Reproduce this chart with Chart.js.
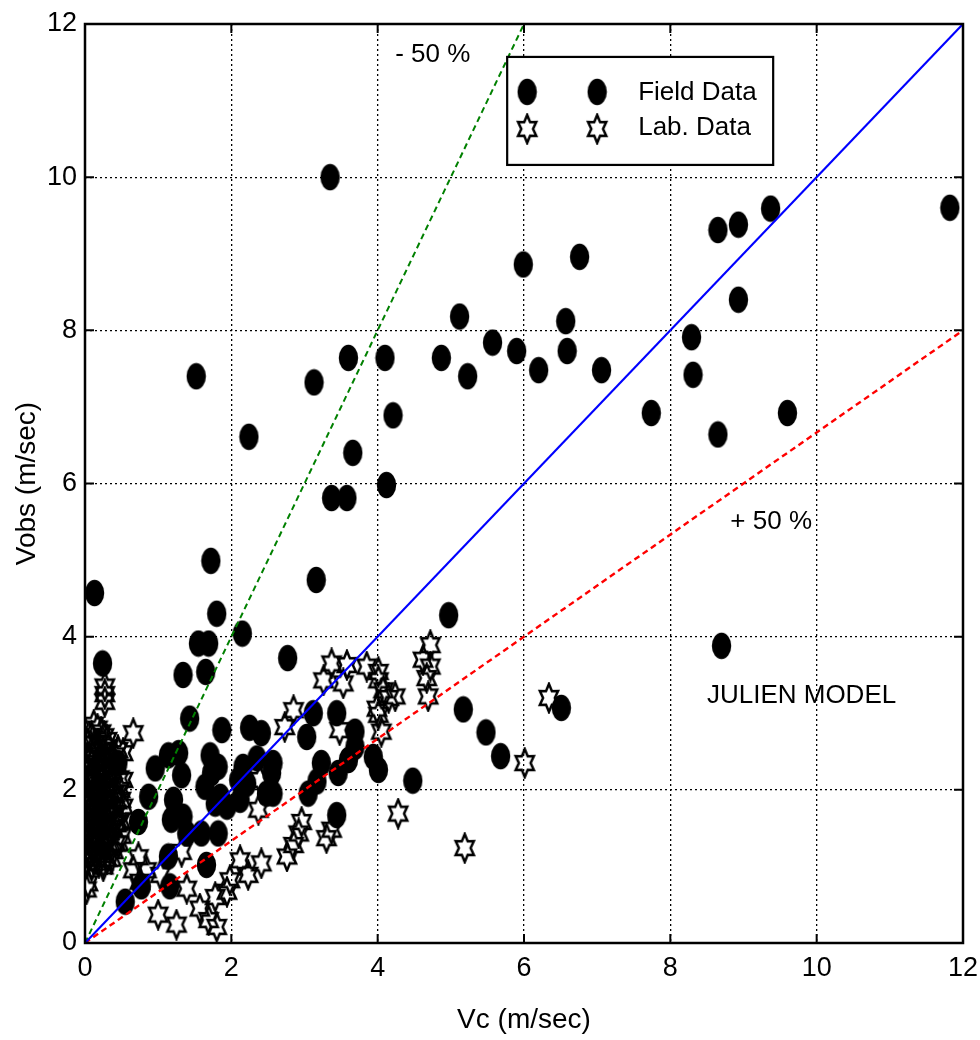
<!DOCTYPE html>
<html lang="en">
<head>
    <meta charset="UTF-8">
    <title>Julien Model - Vobs vs Vc</title>
    <script src="https://cdn.jsdelivr.net/npm/chart.js"></script>
    <style>
        body { margin: 0; background: #fff; }
        canvas { display: block; }
    </style>
</head>
<body>
    <canvas id="julien-chart" width="980" height="1040" style="width:980px;height:1040px"></canvas>

    <script>
        // Field data (filled circles)
        const fieldVc = [
            3.35, 11.82, 9.37, 8.93, 8.65, 6.76, 5.99, 5.12, 6.57, 8.93, 8.29, 8.31, 6.59, 5.90, 5.57,
            4.87, 5.23, 6.20, 7.06, 7.74, 9.60, 8.65, 4.10, 3.60, 3.13, 1.52, 2.24, 4.21, 3.66, 3.37,
            3.58, 4.12, 3.16, 1.72, 0.13, 1.80, 4.97, 8.70, 2.15, 2.77, 0.24, 1.55, 1.69, 1.34, 1.65,
            5.17, 6.51, 5.48, 5.68, 4.48, 1.43, 1.87, 2.25, 2.41, 0.73, 0.87, 1.14, 1.28, 0.96, 1.32,
            1.21, 1.18, 1.34, 1.64, 1.73, 1.71, 1.82, 1.85, 1.78, 1.94, 2.10, 2.21, 2.12, 2.16, 2.35,
            2.55, 2.48, 1.39, 1.59, 1.82, 1.14, 1.66, 1.16, 0.55, 0.77, 0.45, 2.57, 2.57, 3.03, 3.12,
            3.44, 3.69, 3.69, 3.60, 3.94, 4.01, 3.23, 3.17, 3.05, 3.46, 3.44
        ];
        const fieldVobs = [
            10.0, 9.60, 9.59, 9.38, 9.31, 8.96, 8.86, 8.18, 8.12, 8.40, 7.91, 7.42, 7.73, 7.73, 7.84,
            7.64, 7.40, 7.48, 7.48, 6.92, 6.92, 6.64, 7.64, 7.64, 7.32, 7.40, 6.61, 6.89, 6.40, 5.81,
            5.81, 5.98, 4.74, 4.99, 4.57, 4.30, 4.28, 3.88, 4.04, 3.72, 3.65, 3.91, 3.91, 3.50, 3.54,
            3.05, 3.07, 2.75, 2.44, 2.12, 2.93, 2.78, 2.81, 2.74, 1.58, 1.91, 2.45, 2.48, 2.28, 2.19,
            1.87, 1.61, 1.65, 2.04, 2.22, 2.45, 2.30, 1.91, 1.82, 1.78, 2.13, 2.08, 1.87, 2.30, 2.41,
            2.22, 1.95, 1.43, 1.43, 1.43, 1.13, 1.02, 0.74, 0.54, 0.74, 2.35, 2.35, 1.95, 2.69, 3.00,
            3.00, 2.76, 2.56, 2.39, 2.43, 2.26, 2.35, 2.11, 1.95, 2.22, 1.67
        ];

        // Lab. data (six-pointed stars)
        const labVc = [
            0.05, 0.05, 0.05, 0.05, 0.08, 0.08, 0.10, 0.10, 0.12, 0.12, 0.15, 0.15, 0.15, 0.18, 0.18,
            0.20, 0.20, 0.22, 0.22, 0.25, 0.25, 0.28, 0.28, 0.30, 0.30, 0.32, 0.35, 0.35, 0.38, 0.40,
            0.22, 0.18, 0.10, 0.30, 0.02, 0.08, 0.12, 0.25,
            0.03, 0.03, 0.03, 0.03, 0.03, 0.07, 0.07, 0.07, 0.07, 0.11, 0.11, 0.11, 0.13, 0.13, 0.16,
            0.16, 0.16, 0.17, 0.19, 0.19, 0.21, 0.21, 0.21, 0.23, 0.24, 0.26, 0.26, 0.27, 0.29, 0.31,
            0.33, 0.33, 0.36, 0.37, 0.39, 0.41, 0.43, 0.44, 0.47, 0.50,
            0.02, 0.02, 0.02, 0.04, 0.04, 0.06, 0.06, 0.09, 0.09, 0.09, 0.12, 0.12, 0.14, 0.14, 0.17,
            0.17, 0.17, 0.20, 0.20, 0.20, 0.23, 0.23, 0.25, 0.26, 0.28, 0.29, 0.30, 0.32, 0.32, 0.34,
            0.34, 0.36, 0.38, 0.38, 0.40, 0.42, 0.44, 0.46, 0.48, 0.48,
            0.27, 0.27, 0.27, 0.66, 0.45, 0.52, 0.52, 0.52, 0.49, 0.45, 0.42, 0.04,
            1.32, 0.73, 0.84, 0.66, 0.75, 1.03, 1.39, 1.00, 1.25, 1.57, 1.78, 1.69, 1.80, 1.94, 1.98,
            2.12, 2.23, 2.41, 2.39, 2.37, 2.96, 2.92, 2.85, 2.76, 3.30, 3.37, 2.85, 2.73, 3.48,
            3.37, 3.58, 3.26, 3.53, 3.85, 4.01, 4.01, 4.08, 4.15, 4.24, 3.99, 4.01, 4.05,
            4.72, 4.62, 4.72, 4.67, 4.69, 4.28, 5.19, 6.34, 6.01
        ];
        const labVobs = [
            1.20, 1.40, 1.60, 1.80, 1.30, 1.50, 1.70, 1.95, 1.25, 1.45, 1.15, 1.60, 2.10, 1.35, 1.85,
            2.30, 1.20, 1.55, 2.00, 2.50, 1.75, 2.20, 1.40, 1.90, 2.65, 1.60, 2.40, 1.30, 2.05, 1.75,
            2.75, 2.60, 2.45, 1.10, 0.70, 2.20, 2.85, 1.05,
            1.05, 1.35, 1.65, 1.95, 2.25, 1.15, 1.75, 2.05, 2.40, 1.10, 1.55, 2.20, 1.90, 2.60, 1.30,
            1.70, 2.35, 2.80, 1.05, 1.60, 1.40, 1.90, 2.45, 1.15, 2.15, 1.55, 2.70, 1.95, 1.25, 2.35,
            1.45, 2.00, 1.65, 2.25, 1.20, 2.45, 1.55, 1.85, 2.15, 1.40,
            1.50, 2.10, 2.40, 1.15, 2.60, 1.85, 2.15, 1.00, 2.50, 2.70, 1.70, 2.00, 1.40, 2.30, 1.10,
            1.95, 2.50, 1.50, 1.75, 2.15, 1.35, 2.30, 1.00, 1.85, 2.45, 1.70, 2.05, 1.30, 2.55, 1.80,
            2.20, 1.10, 1.50, 2.40, 1.95, 1.70, 2.30, 1.30, 1.60, 2.00,
            3.35, 3.25, 3.15, 2.74, 2.52, 2.48, 2.13, 1.78, 1.87, 1.57, 1.30, 0.78,
            1.19, 1.12, 0.95, 0.95, 0.80, 0.89, 0.71, 0.37, 0.24, 0.45, 0.60, 0.30, 0.21, 0.67, 0.82,
            1.08, 0.89, 1.04, 2.13, 1.74, 1.58, 1.43, 1.28, 1.13, 1.37, 1.48, 3.04, 2.82, 2.78,
            3.65, 3.63, 3.43, 3.39, 3.61, 3.54, 3.43, 3.30, 3.20, 3.22, 3.06, 2.98, 2.76,
            3.89, 3.70, 3.61, 3.46, 3.22, 1.69, 1.24, 3.20, 2.35
        ];

        // Reference lines: Vobs = Vc, -50 % and +50 %
        const lineVc = [0, 12];
        const perfectVobs = [0, 12];
        const minus50Vc = [0, 6];
        const minus50Vobs = [0, 12];
        const plus50Vobs = [0, 8];

        const tickValues = [0, 2, 4, 6, 8, 10, 12];
        const legendLabels = ['Field Data', 'Lab. Data'];

        const FONT = "'Liberation Sans', Arial, sans-serif";

        function toPoints(xs, ys) {
            return xs.map((x, i) => ({ x: x, y: ys[i] }));
        }

        // filled ellipse marker
        function makeDot() {
            const c = document.createElement('canvas');
            c.width = 21; c.height = 28;
            const g = c.getContext('2d');
            g.fillStyle = '#000';
            g.beginPath();
            g.ellipse(10.5, 14, 9.7, 13.2, 0, 0, Math.PI * 2);
            g.fill();
            return c;
        }

        // hexagram outline marker (unfilled, like matlab 'h')
        function makeStar() {
            const c = document.createElement('canvas');
            c.width = 24; c.height = 32;
            const g = c.getContext('2d');
            const cx = 12, cy = 16, rx = 10.5, ry = 14;
            g.beginPath();
            for (let i = 0; i < 12; i++) {
                const a = -Math.PI / 2 + i * Math.PI / 6;
                const r = (i % 2 === 0) ? 1 : 0.56;
                const px = cx + Math.cos(a) * rx * r;
                const py = cy + Math.sin(a) * ry * r;
                if (i === 0) g.moveTo(px, py); else g.lineTo(px, py);
            }
            g.closePath();
            g.lineWidth = 2.5;
            g.strokeStyle = '#000';
            g.stroke();
            return c;
        }

        const dotImg = makeDot();
        const starImg = makeStar();

        const framePlugin = {
            id: 'frame',
            afterDraw(chart) {
                const ctx = chart.ctx;
                const a = chart.chartArea;
                const xs = chart.scales.x, ys = chart.scales.y;
                ctx.save();
                // inward ticks
                ctx.strokeStyle = '#000';
                ctx.lineWidth = 2;
                tickValues.forEach(v => {
                    const px = xs.getPixelForValue(v);
                    const py = ys.getPixelForValue(v);
                    ctx.beginPath();
                    ctx.moveTo(px, a.bottom); ctx.lineTo(px, a.bottom - 9);
                    ctx.moveTo(px, a.top); ctx.lineTo(px, a.top + 9);
                    ctx.moveTo(a.left, py); ctx.lineTo(a.left + 9, py);
                    ctx.moveTo(a.right, py); ctx.lineTo(a.right - 9, py);
                    ctx.stroke();
                });
                // box
                ctx.lineWidth = 2.5;
                ctx.strokeRect(a.left, a.top, a.right - a.left, a.bottom - a.top);

                // text labels
                ctx.fillStyle = '#000';
                ctx.font = '26px ' + FONT;
                ctx.textBaseline = 'middle';
                ctx.textAlign = 'left';
                ctx.fillText('- 50 %', xs.getPixelForValue(4.24), ys.getPixelForValue(11.6));
                ctx.fillText('+ 50 %', xs.getPixelForValue(8.82), ys.getPixelForValue(5.5));
                ctx.fillText('JULIEN MODEL', xs.getPixelForValue(8.5), ys.getPixelForValue(3.23));

                // legend box
                const lx = xs.getPixelForValue(5.77), ly = ys.getPixelForValue(11.57);
                const lw = 266, lh = 108;
                ctx.fillStyle = '#fff';
                ctx.fillRect(lx, ly, lw, lh);
                ctx.lineWidth = 2.2;
                ctx.strokeRect(lx, ly, lw, lh);
                ctx.drawImage(dotImg, lx + 20 - 10.5, ly + 35 - 14);
                ctx.drawImage(dotImg, lx + 90 - 10.5, ly + 35 - 14);
                ctx.drawImage(starImg, lx + 20 - 12, ly + 72 - 16);
                ctx.drawImage(starImg, lx + 90 - 12, ly + 72 - 16);
                ctx.fillStyle = '#000';
                ctx.font = '26px ' + FONT;
                ctx.fillText(legendLabels[0], lx + 131, ly + 36);
                ctx.fillText(legendLabels[1], lx + 131, ly + 71);
                ctx.restore();
            }
        };

        const ctx = document.getElementById('julien-chart').getContext('2d');
        const chart = new Chart(ctx, {
            type: 'scatter',
            data: {
                datasets: [
                    {
                        label: 'Vobs = Vc',
                        type: 'line',
                        data: toPoints(lineVc, perfectVobs),
                        borderColor: '#0000ff',
                        borderWidth: 2.2,
                        pointRadius: 0,
                        fill: false,
                        order: 0
                    },
                    {
                        label: '- 50 %',
                        type: 'line',
                        data: toPoints(minus50Vc, minus50Vobs),
                        borderColor: '#008000',
                        borderWidth: 2,
                        borderDash: [6, 4],
                        pointRadius: 0,
                        fill: false,
                        order: 0
                    },
                    {
                        label: '+ 50 %',
                        type: 'line',
                        data: toPoints(lineVc, plus50Vobs),
                        borderColor: '#ff0000',
                        borderWidth: 2.4,
                        borderDash: [6, 4],
                        pointRadius: 0,
                        fill: false,
                        order: 0
                    },
                    {
                        label: legendLabels[0],
                        data: toPoints(fieldVc, fieldVobs),
                        pointStyle: dotImg,
                        order: 1
                    },
                    {
                        label: legendLabels[1],
                        data: toPoints(labVc, labVobs),
                        pointStyle: starImg,
                        order: 2
                    }
                ]
            },
            options: {
                responsive: false,
                animation: false,
                layout: { padding: { top: 24, right: 17, left: 0, bottom: 0 } },
                plugins: {
                    legend: { display: false },
                    tooltip: { enabled: false }
                },
                scales: {
                    x: {
                        type: 'linear',
                        min: 0,
                        max: 12,
                        afterBuildTicks: s => { s.ticks = tickValues.map(v => ({ value: v })); },
                        afterFit: s => { s.height = 97; s.paddingLeft = 0; s.paddingRight = 0; },
                        ticks: { color: '#000', font: { family: FONT, size: 27 }, padding: 9 },
                        grid: { color: '#000', lineWidth: 1.3, drawTicks: false },
                        border: { display: false, dash: [2, 3] },
                        title: {
                            display: true,
                            text: 'Vc (m/sec)',
                            color: '#000',
                            font: { family: FONT, size: 28 },
                            padding: { top: 0, bottom: 3 }
                        }
                    },
                    y: {
                        type: 'linear',
                        min: 0,
                        max: 12,
                        afterBuildTicks: s => { s.ticks = tickValues.map(v => ({ value: v })); },
                        afterFit: s => { s.width = 85; s.paddingTop = 0; s.paddingBottom = 0; },
                        ticks: { color: '#000', font: { family: FONT, size: 27 }, padding: 8 },
                        grid: { color: '#000', lineWidth: 1.3, drawTicks: false },
                        border: { display: false, dash: [2, 3] },
                        title: {
                            display: true,
                            text: 'Vobs (m/sec)',
                            color: '#000',
                            font: { family: FONT, size: 28 },
                            padding: { top: 10, bottom: 0 }
                        }
                    }
                }
            },
            plugins: [framePlugin]
        });
    </script>
</body>
</html>
